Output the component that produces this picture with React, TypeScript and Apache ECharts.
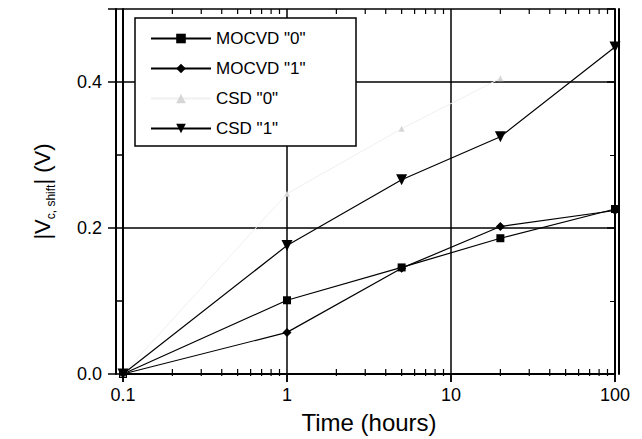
import React, { useEffect, useRef } from "react";
import * as echarts from "echarts";

const timeHours = [0.1, 1, 5, 20, 100];
const mocvd0 = [0, 0.101, 0.146, 0.186, 0.226];
const mocvd1 = [0, 0.057, 0.145, 0.202, 0.224];
const csd0Times = [0.1, 1, 5, 20];
const csd0 = [0, 0.247, 0.336, 0.405];
const csd1 = [0, 0.176, 0.266, 0.325, 0.448];
const seriesNames = ['MOCVD "0"', 'MOCVD "1"', 'CSD "0"', 'CSD "1"'];
const minorTickValues = [0.2, 0.3, 0.4, 0.5, 0.6, 0.7, 0.8, 0.9, 2, 3, 4, 5, 6, 7, 8, 9, 20, 30, 40, 50, 60, 70, 80, 90];
const yMin = 0;
const yMax = 0.5;
const yInterval = 0.2;

const FONT = "'Liberation Sans', Arial, sans-serif";

function pairs(xs: number[], ys: number[]) {
  return xs.map((x, i) => [x, ys[i]]);
}

export default function App() {
  const ref = useRef<HTMLDivElement>(null);
  useEffect(() => {
    if (!ref.current) return;
    const chart = echarts.init(ref.current, null, { renderer: "svg" });
    const lineBase = {
      type: "line" as const,
      xAxisIndex: 0,
      yAxisIndex: 0,
      clip: false,
      lineStyle: { color: "#000", width: 1.2 },
      itemStyle: { color: "#000" },
    };
    chart.setOption({
      animation: false,
      backgroundColor: "#fff",
      grid: { left: 123, right: 27, top: 9, bottom: 65 },
      graphic: [
        {
          type: "rect",
          z: 3,
          zlevel: 0,
          shape: { x: 135, y: 18, width: 221, height: 128 },
          style: { fill: "#fff", stroke: "#000", lineWidth: 1.5 },
          silent: true,
        },
      ],
      legend: {
        data: seriesNames,
        orient: "vertical",
        left: 135,
        top: 18,
        z: 4,
        padding: [12, 10, 12, 15],
        itemWidth: 60,
        itemHeight: 12,
        itemGap: 13,
        textStyle: { fontSize: 17, fontFamily: FONT, color: "#000" },
      },
      xAxis: [
        {
          type: "log",
          logBase: 10,
          min: 0.1,
          max: 100,
          position: "bottom",
          name: "Time (hours)",
          nameLocation: "middle",
          nameGap: 36,
          nameTextStyle: { fontSize: 24, fontFamily: FONT, color: "#000" },
          axisLine: { show: true, lineStyle: { color: "#000", width: 2 } },
          axisTick: { show: true, inside: false, length: 8, lineStyle: { color: "#000", width: 1.5 } },
          axisLabel: {
            margin: 12,
            fontSize: 18,
            fontFamily: FONT,
            color: "#000",
            formatter: (v: number) => String(Math.round(v * 10) / 10),
          },
          splitLine: { show: true, lineStyle: { color: "#000", width: 1.5 } },
        },
        {
          type: "log",
          logBase: 10,
          min: 0.1,
          max: 100,
          position: "top",
          axisLine: { show: true, lineStyle: { color: "#000", width: 2 } },
          axisTick: { show: true, inside: true, length: 8, lineStyle: { color: "#000", width: 1.5 } },
          axisLabel: { show: false },
          splitLine: { show: false },
        },
      ],
      yAxis: [
        {
          type: "value",
          min: yMin,
          max: yMax,
          interval: yInterval,
          position: "left",
          name: "|V{sub|c, shift}| (V)",
          nameLocation: "middle",
          nameRotate: 90,
          nameGap: 66,
          nameTextStyle: {
            fontSize: 22,
            fontFamily: FONT,
            color: "#000",
            lineHeight: 30,
            rich: {
              sub: { fontSize: 12, fontFamily: FONT, color: "#000", lineHeight: 12, verticalAlign: "bottom" },
            },
          },
          axisLine: { show: true, lineStyle: { color: "#000", width: 2 } },
          axisTick: { show: true, inside: false, length: 15, lineStyle: { color: "#000", width: 1.5 } },
          minorTick: { show: true, splitNumber: 2, length: 7, lineStyle: { color: "#000", width: 1.5 } },
          axisLabel: {
            margin: 21,
            fontSize: 18,
            fontFamily: FONT,
            color: "#000",
            showMaxLabel: false,
            formatter: (v: number) => v.toFixed(1),
          },
          splitLine: { show: true, lineStyle: { color: "#000", width: 1.5 } },
        },
        {
          type: "value",
          min: yMin,
          max: yMax,
          interval: yInterval,
          position: "right",
          axisLine: { show: true, lineStyle: { color: "#000", width: 2 } },
          axisTick: { show: true, inside: true, length: 8, lineStyle: { color: "#000", width: 1.5 } },
          minorTick: { show: true, splitNumber: 2, length: 5, lineStyle: { color: "#000", width: 1 } },
          axisLabel: { show: false },
          splitLine: { show: false },
        },
        {
          type: "value",
          min: yMin,
          max: yMax,
          position: "left",
          offset: 7,
          axisLine: { show: true, lineStyle: { color: "#000", width: 2 } },
          axisTick: { show: false },
          axisLabel: { show: false },
          splitLine: { show: false },
        },
        {
          type: "value",
          min: yMin,
          max: yMax,
          position: "right",
          offset: 4,
          axisLine: { show: true, lineStyle: { color: "#000", width: 2 } },
          axisTick: { show: false },
          axisLabel: { show: false },
          splitLine: { show: false },
        },
      ],
      series: [
        {
          type: "custom",
          name: "minorTicks",
          xAxisIndex: 0,
          yAxisIndex: 0,
          silent: true,
          clip: false,
          data: minorTickValues,
          renderItem: (params: any, api: any) => {
            const v = api.value(0);
            const b = api.coord([v, yMin]);
            const t = api.coord([v, yMax]);
            return {
              type: "group",
              children: [
                { type: "line", shape: { x1: b[0], y1: b[1] - 5, x2: b[0], y2: b[1] + 2 }, style: { stroke: "#000", lineWidth: 1.2 } },
                { type: "line", shape: { x1: t[0], y1: t[1], x2: t[0], y2: t[1] + 5 }, style: { stroke: "#000", lineWidth: 1.2 } },
              ],
            };
          },
          encode: { x: 0 },
        },
        {
          ...lineBase,
          name: seriesNames[0],
          data: pairs(timeHours, mocvd0),
          symbol: "rect",
          symbolSize: 8,
        },
        {
          ...lineBase,
          name: seriesNames[1],
          data: pairs(timeHours, mocvd1),
          symbol: "diamond",
          symbolSize: 9,
        },
        {
          ...lineBase,
          name: seriesNames[2],
          data: pairs(csd0Times, csd0),
          symbol: "triangle",
          symbolSize: 6,
          lineStyle: { color: "#f0f0f0", width: 1 },
          itemStyle: { color: "#d6d6d6" },
        },
        {
          ...lineBase,
          name: seriesNames[3],
          data: pairs(timeHours, csd1),
          symbol: "triangle",
          symbolRotate: 180,
          symbolSize: 11,
        },
      ],
    });
    return () => chart.dispose();
  }, []);
  return <div ref={ref} style={{ position: "absolute", left: 0, top: 0, width: 642, height: 439 }} />;
}
